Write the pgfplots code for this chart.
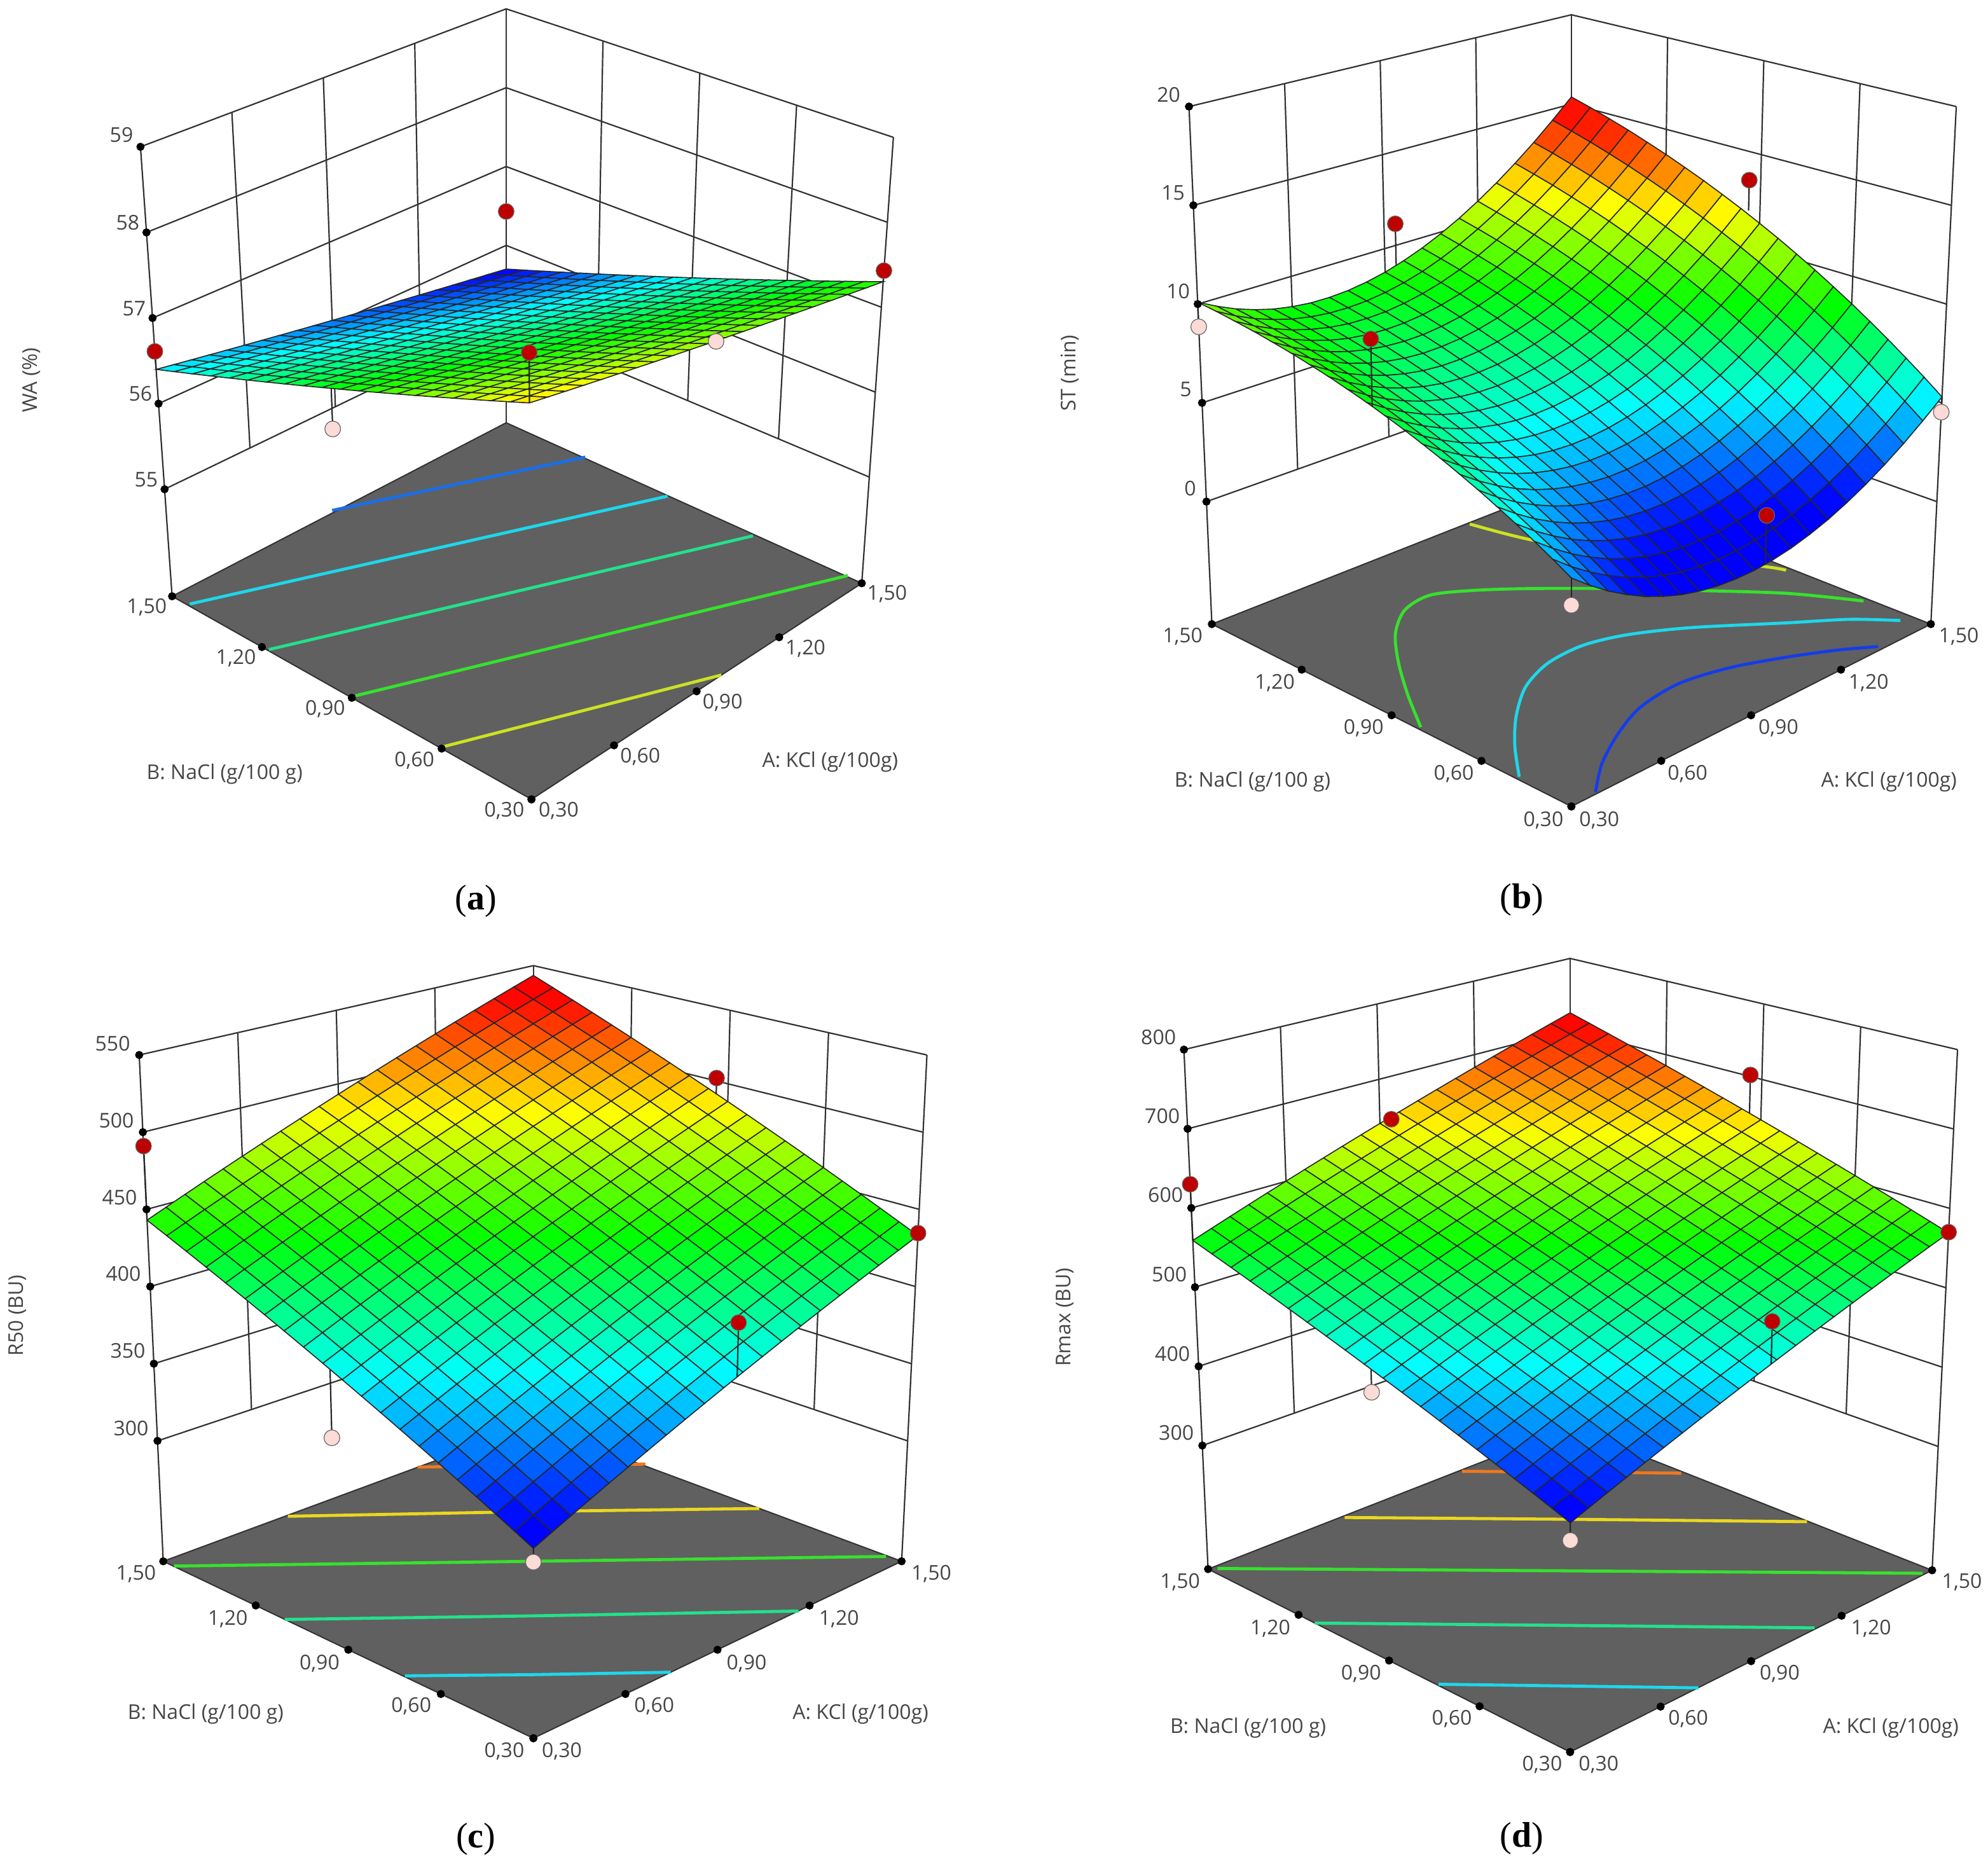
\documentclass[border=0pt]{standalone}
\usepackage{fontspec}
\setmainfont{Open Sans}
\newfontfamily\capfont{Liberation Serif}
\usepackage{pgfplots}
\usepackage{pgfplotstable}
\pgfplotsset{compat=1.18}

\definecolor{floorc}{RGB}{96,96,96}
\definecolor{wallc}{RGB}{50,50,50}
\definecolor{ptred}{RGB}{190,0,0}
\definecolor{ptpink}{RGB}{252,218,214}
\definecolor{txt}{RGB}{70,70,70}
\definecolor{cblue}{RGB}{25,110,235}
\definecolor{cdeep}{RGB}{20,60,235}
\definecolor{ccyan}{RGB}{30,215,235}
\definecolor{cteal}{RGB}{35,225,140}
\definecolor{cgreen}{RGB}{55,225,45}
\definecolor{cyell}{RGB}{205,225,35}
\definecolor{cgold}{RGB}{235,215,30}
\definecolor{corange}{RGB}{240,120,30}

% response over the 21 x 21 grid, back corner first (A from 1.5 down, then B from 1.5 down)
\pgfplotstableread[header=false]{
55.700
55.735
55.770
55.805
55.840
55.875
55.910
55.945
55.980
56.015
56.050
56.085
56.120
56.155
56.190
56.225
56.260
56.295
56.330
56.365
56.400
55.780
55.815
55.850
55.885
55.920
55.955
55.990
56.025
56.060
56.095
56.130
56.165
56.200
56.235
56.270
56.305
56.340
56.375
56.410
56.445
56.480
55.860
55.895
55.930
55.965
56.000
56.035
56.070
56.105
56.140
56.175
56.210
56.245
56.280
56.315
56.350
56.385
56.420
56.455
56.490
56.525
56.560
55.940
55.975
56.010
56.045
56.080
56.115
56.150
56.185
56.220
56.255
56.290
56.325
56.360
56.395
56.430
56.465
56.500
56.535
56.570
56.605
56.640
56.020
56.055
56.090
56.125
56.160
56.195
56.230
56.265
56.300
56.335
56.370
56.405
56.440
56.475
56.510
56.545
56.580
56.615
56.650
56.685
56.720
56.100
56.135
56.170
56.205
56.240
56.275
56.310
56.345
56.380
56.415
56.450
56.485
56.520
56.555
56.590
56.625
56.660
56.695
56.730
56.765
56.800
56.180
56.215
56.250
56.285
56.320
56.355
56.390
56.425
56.460
56.495
56.530
56.565
56.600
56.635
56.670
56.705
56.740
56.775
56.810
56.845
56.880
56.260
56.295
56.330
56.365
56.400
56.435
56.470
56.505
56.540
56.575
56.610
56.645
56.680
56.715
56.750
56.785
56.820
56.855
56.890
56.925
56.960
56.340
56.375
56.410
56.445
56.480
56.515
56.550
56.585
56.620
56.655
56.690
56.725
56.760
56.795
56.830
56.865
56.900
56.935
56.970
57.005
57.040
56.420
56.455
56.490
56.525
56.560
56.595
56.630
56.665
56.700
56.735
56.770
56.805
56.840
56.875
56.910
56.945
56.980
57.015
57.050
57.085
57.120
56.500
56.535
56.570
56.605
56.640
56.675
56.710
56.745
56.780
56.815
56.850
56.885
56.920
56.955
56.990
57.025
57.060
57.095
57.130
57.165
57.200
56.580
56.615
56.650
56.685
56.720
56.755
56.790
56.825
56.860
56.895
56.930
56.965
57.000
57.035
57.070
57.105
57.140
57.175
57.210
57.245
57.280
56.660
56.695
56.730
56.765
56.800
56.835
56.870
56.905
56.940
56.975
57.010
57.045
57.080
57.115
57.150
57.185
57.220
57.255
57.290
57.325
57.360
56.740
56.775
56.810
56.845
56.880
56.915
56.950
56.985
57.020
57.055
57.090
57.125
57.160
57.195
57.230
57.265
57.300
57.335
57.370
57.405
57.440
56.820
56.855
56.890
56.925
56.960
56.995
57.030
57.065
57.100
57.135
57.170
57.205
57.240
57.275
57.310
57.345
57.380
57.415
57.450
57.485
57.520
56.900
56.935
56.970
57.005
57.040
57.075
57.110
57.145
57.180
57.215
57.250
57.285
57.320
57.355
57.390
57.425
57.460
57.495
57.530
57.565
57.600
56.980
57.015
57.050
57.085
57.120
57.155
57.190
57.225
57.260
57.295
57.330
57.365
57.400
57.435
57.470
57.505
57.540
57.575
57.610
57.645
57.680
57.060
57.095
57.130
57.165
57.200
57.235
57.270
57.305
57.340
57.375
57.410
57.445
57.480
57.515
57.550
57.585
57.620
57.655
57.690
57.725
57.760
57.140
57.175
57.210
57.245
57.280
57.315
57.350
57.385
57.420
57.455
57.490
57.525
57.560
57.595
57.630
57.665
57.700
57.735
57.770
57.805
57.840
57.220
57.255
57.290
57.325
57.360
57.395
57.430
57.465
57.500
57.535
57.570
57.605
57.640
57.675
57.710
57.745
57.780
57.815
57.850
57.885
57.920
57.300
57.335
57.370
57.405
57.440
57.475
57.510
57.545
57.580
57.615
57.650
57.685
57.720
57.755
57.790
57.825
57.860
57.895
57.930
57.965
58.000
}\tabWA

\pgfplotstableread[header=false]{
15.40
14.38
13.43
12.57
11.78
11.08
10.45
9.91
9.44
9.06
8.75
8.53
8.38
8.32
8.33
8.43
8.60
8.86
9.19
9.61
10.10
15.09
14.07
13.14
12.28
11.51
10.81
10.20
9.66
9.21
8.83
8.54
8.33
8.19
8.14
8.16
8.27
8.45
8.72
9.06
9.49
10.00
14.75
13.75
12.82
11.98
11.21
10.53
9.93
9.40
8.96
8.59
8.31
8.11
7.98
7.94
7.97
8.09
8.29
8.56
8.92
9.35
9.87
14.40
13.40
12.49
11.65
10.90
10.23
9.63
9.12
8.69
8.33
8.06
7.87
7.75
7.72
7.77
7.89
8.10
8.39
8.75
9.20
9.73
14.02
13.04
12.13
11.31
10.57
9.91
9.32
8.82
8.40
8.05
7.79
7.61
7.50
7.48
7.54
7.68
7.89
8.19
8.57
9.02
9.56
13.63
12.65
11.76
10.95
10.22
9.56
8.99
8.50
8.09
7.75
7.50
7.33
7.24
7.22
7.29
7.44
7.67
7.97
8.36
8.83
9.38
13.21
12.25
11.37
10.56
9.84
9.20
8.64
8.16
7.75
7.43
7.19
7.03
6.95
6.94
7.02
7.18
7.42
7.74
8.13
8.61
9.17
12.78
11.82
10.95
10.16
9.45
8.82
8.27
7.79
7.40
7.09
6.86
6.71
6.64
6.65
6.73
6.90
7.15
7.48
7.89
8.38
8.95
12.32
11.38
10.52
9.74
9.04
8.42
7.87
7.41
7.03
6.73
6.51
6.37
6.31
6.33
6.43
6.61
6.86
7.20
7.62
8.12
8.70
11.85
10.91
10.06
9.29
8.60
7.99
7.46
7.01
6.64
6.35
6.14
6.01
5.96
5.99
6.10
6.29
6.56
6.91
7.34
7.85
8.44
11.35
10.43
9.59
8.83
8.15
7.55
7.03
6.59
6.23
5.95
5.75
5.63
5.59
5.63
5.75
5.95
6.23
6.59
7.03
7.55
8.15
10.84
9.93
9.10
8.35
7.68
7.09
6.58
6.15
5.80
5.53
5.34
5.23
5.20
5.25
5.38
5.59
5.88
6.25
6.70
7.23
7.85
10.30
9.40
8.58
7.84
7.18
6.61
6.11
5.69
5.35
5.09
4.91
4.81
4.79
4.85
4.99
5.22
5.52
5.90
6.36
6.90
7.52
9.75
8.86
8.05
7.32
6.67
6.10
5.61
5.21
4.88
4.63
4.46
4.37
4.36
4.43
4.59
4.82
5.13
5.52
5.99
6.54
7.18
9.17
8.29
7.49
6.78
6.14
5.58
5.10
4.70
4.39
4.15
3.99
3.91
3.91
4.00
4.16
4.40
4.72
5.12
5.61
6.17
6.81
8.58
7.71
6.92
6.21
5.59
5.04
4.57
4.18
3.88
3.65
3.50
3.43
3.45
3.54
3.71
3.96
4.30
4.71
5.20
5.77
6.43
7.96
7.10
6.33
5.63
5.01
4.48
4.02
3.64
3.34
3.13
2.99
2.93
2.96
3.06
3.24
3.51
3.85
4.27
4.77
5.36
6.02
7.33
6.48
5.71
5.03
4.42
3.89
3.45
3.08
2.79
2.59
2.46
2.41
2.45
2.56
2.75
3.03
3.38
3.81
4.33
4.92
5.60
6.67
5.83
5.08
4.40
3.81
3.29
2.85
2.50
2.22
2.03
1.91
1.87
1.92
2.04
2.25
2.53
2.89
3.34
3.86
4.47
5.15
6.00
5.17
4.42
3.76
3.17
2.67
2.24
1.90
1.63
1.45
1.34
1.31
1.37
1.50
1.72
2.01
2.39
2.84
3.38
3.99
4.69
5.30
4.49
3.75
3.10
2.52
2.03
1.61
1.28
1.02
0.85
0.75
0.74
0.80
0.95
1.17
1.48
1.86
2.33
2.87
3.50
4.20
}\tabST

\pgfplotstableread[header=false]{
543
538
533
528
523
518
513
508
503
498
493
488
483
478
473
468
463
458
453
448
443
537.5
532.5
527.5
522.5
517.5
512.5
507.5
502.5
497.5
492.5
487.5
482.5
477.5
472.5
467.5
462.5
457.5
452.5
447.5
442.5
437.5
532
527
522
517
512
507
502
497
492
487
482
477
472
467
462
457
452
447
442
437
432
526.5
521.5
516.5
511.5
506.5
501.5
496.5
491.5
486.5
481.5
476.5
471.5
466.5
461.5
456.5
451.5
446.5
441.5
436.5
431.5
426.5
521
516
511
506
501
496
491
486
481
476
471
466
461
456
451
446
441
436
431
426
421
515.5
510.5
505.5
500.5
495.5
490.5
485.5
480.5
475.5
470.5
465.5
460.5
455.5
450.5
445.5
440.5
435.5
430.5
425.5
420.5
415.5
510
505
500
495
490
485
480
475
470
465
460
455
450
445
440
435
430
425
420
415
410
504.5
499.5
494.5
489.5
484.5
479.5
474.5
469.5
464.5
459.5
454.5
449.5
444.5
439.5
434.5
429.5
424.5
419.5
414.5
409.5
404.5
499
494
489
484
479
474
469
464
459
454
449
444
439
434
429
424
419
414
409
404
399
493.5
488.5
483.5
478.5
473.5
468.5
463.5
458.5
453.5
448.5
443.5
438.5
433.5
428.5
423.5
418.5
413.5
408.5
403.5
398.5
393.5
488
483
478
473
468
463
458
453
448
443
438
433
428
423
418
413
408
403
398
393
388
482.5
477.5
472.5
467.5
462.5
457.5
452.5
447.5
442.5
437.5
432.5
427.5
422.5
417.5
412.5
407.5
402.5
397.5
392.5
387.5
382.5
477
472
467
462
457
452
447
442
437
432
427
422
417
412
407
402
397
392
387
382
377
471.5
466.5
461.5
456.5
451.5
446.5
441.5
436.5
431.5
426.5
421.5
416.5
411.5
406.5
401.5
396.5
391.5
386.5
381.5
376.5
371.5
466
461
456
451
446
441
436
431
426
421
416
411
406
401
396
391
386
381
376
371
366
460.5
455.5
450.5
445.5
440.5
435.5
430.5
425.5
420.5
415.5
410.5
405.5
400.5
395.5
390.5
385.5
380.5
375.5
370.5
365.5
360.5
455
450
445
440
435
430
425
420
415
410
405
400
395
390
385
380
375
370
365
360
355
449.5
444.5
439.5
434.5
429.5
424.5
419.5
414.5
409.5
404.5
399.5
394.5
389.5
384.5
379.5
374.5
369.5
364.5
359.5
354.5
349.5
444
439
434
429
424
419
414
409
404
399
394
389
384
379
374
369
364
359
354
349
344
438.5
433.5
428.5
423.5
418.5
413.5
408.5
403.5
398.5
393.5
388.5
383.5
378.5
373.5
368.5
363.5
358.5
353.5
348.5
343.5
338.5
433
428
423
418
413
408
403
398
393
388
383
378
373
368
363
358
353
348
343
338
333
}\tabRfifty

\pgfplotstableread[header=false]{
724.00
715.75
707.50
699.25
691.00
682.75
674.50
666.25
658.00
649.75
641.50
633.25
625.00
616.75
608.50
600.25
592.00
583.75
575.50
567.25
559.00
716.25
708.00
699.75
691.50
683.25
675.00
666.75
658.50
650.25
642.00
633.75
625.50
617.25
609.00
600.75
592.50
584.25
576.00
567.75
559.50
551.25
708.50
700.25
692.00
683.75
675.50
667.25
659.00
650.75
642.50
634.25
626.00
617.75
609.50
601.25
593.00
584.75
576.50
568.25
560.00
551.75
543.50
700.75
692.50
684.25
676.00
667.75
659.50
651.25
643.00
634.75
626.50
618.25
610.00
601.75
593.50
585.25
577.00
568.75
560.50
552.25
544.00
535.75
693.00
684.75
676.50
668.25
660.00
651.75
643.50
635.25
627.00
618.75
610.50
602.25
594.00
585.75
577.50
569.25
561.00
552.75
544.50
536.25
528.00
685.25
677.00
668.75
660.50
652.25
644.00
635.75
627.50
619.25
611.00
602.75
594.50
586.25
578.00
569.75
561.50
553.25
545.00
536.75
528.50
520.25
677.50
669.25
661.00
652.75
644.50
636.25
628.00
619.75
611.50
603.25
595.00
586.75
578.50
570.25
562.00
553.75
545.50
537.25
529.00
520.75
512.50
669.75
661.50
653.25
645.00
636.75
628.50
620.25
612.00
603.75
595.50
587.25
579.00
570.75
562.50
554.25
546.00
537.75
529.50
521.25
513.00
504.75
662.00
653.75
645.50
637.25
629.00
620.75
612.50
604.25
596.00
587.75
579.50
571.25
563.00
554.75
546.50
538.25
530.00
521.75
513.50
505.25
497.00
654.25
646.00
637.75
629.50
621.25
613.00
604.75
596.50
588.25
580.00
571.75
563.50
555.25
547.00
538.75
530.50
522.25
514.00
505.75
497.50
489.25
646.50
638.25
630.00
621.75
613.50
605.25
597.00
588.75
580.50
572.25
564.00
555.75
547.50
539.25
531.00
522.75
514.50
506.25
498.00
489.75
481.50
638.75
630.50
622.25
614.00
605.75
597.50
589.25
581.00
572.75
564.50
556.25
548.00
539.75
531.50
523.25
515.00
506.75
498.50
490.25
482.00
473.75
631.00
622.75
614.50
606.25
598.00
589.75
581.50
573.25
565.00
556.75
548.50
540.25
532.00
523.75
515.50
507.25
499.00
490.75
482.50
474.25
466.00
623.25
615.00
606.75
598.50
590.25
582.00
573.75
565.50
557.25
549.00
540.75
532.50
524.25
516.00
507.75
499.50
491.25
483.00
474.75
466.50
458.25
615.50
607.25
599.00
590.75
582.50
574.25
566.00
557.75
549.50
541.25
533.00
524.75
516.50
508.25
500.00
491.75
483.50
475.25
467.00
458.75
450.50
607.75
599.50
591.25
583.00
574.75
566.50
558.25
550.00
541.75
533.50
525.25
517.00
508.75
500.50
492.25
484.00
475.75
467.50
459.25
451.00
442.75
600.00
591.75
583.50
575.25
567.00
558.75
550.50
542.25
534.00
525.75
517.50
509.25
501.00
492.75
484.50
476.25
468.00
459.75
451.50
443.25
435.00
592.25
584.00
575.75
567.50
559.25
551.00
542.75
534.50
526.25
518.00
509.75
501.50
493.25
485.00
476.75
468.50
460.25
452.00
443.75
435.50
427.25
584.50
576.25
568.00
559.75
551.50
543.25
535.00
526.75
518.50
510.25
502.00
493.75
485.50
477.25
469.00
460.75
452.50
444.25
436.00
427.75
419.50
576.75
568.50
560.25
552.00
543.75
535.50
527.25
519.00
510.75
502.50
494.25
486.00
477.75
469.50
461.25
453.00
444.75
436.50
428.25
420.00
411.75
569.00
560.75
552.50
544.25
536.00
527.75
519.50
511.25
503.00
494.75
486.50
478.25
470.00
461.75
453.50
445.25
437.00
428.75
420.50
412.25
404.00
}\tabRmax

\pgfplotsset{
  table/cube/.style={header=false,
    x expr={PU(NA(\thisrowno{0}),NA(\thisrowno{1}),NZ(\thisrowno{2}))},
    y expr={PV(NA(\thisrowno{0}),NA(\thisrowno{1}),NZ(\thisrowno{2}))},
    z expr={\thisrowno{2}}},
  table/gridz/.style={x index=0,y index=0,z index=0,
    x expr={PU(1-(\coordindex-21*floor((\coordindex+0.5)/21))/20,1-floor((\coordindex+0.5)/21)/20,NZ(\thisrowno{0}))},
    y expr={PV(1-(\coordindex-21*floor((\coordindex+0.5)/21))/20,1-floor((\coordindex+0.5)/21)/20,NZ(\thisrowno{0}))},
    z expr={\thisrowno{0}}},
  panel/.style n args={4}{at={(#1pt,#2pt)},anchor=south west,scale only axis,
    width=#3pt,height=#4pt,xmin=0,xmax=1568,ymin=0,ymax=1568,y dir=reverse,
    view={0}{90},hide axis,clip=false},
  colormap={de}{rgb255=(0,0,255) rgb255=(0,255,255) rgb255=(0,255,0) rgb255=(255,255,0) rgb255=(255,0,0)},
  wall/.style={wallc,line width=0.55pt},
  dot/.style={only marks,mark=*,mark size=1.4pt,black},
  stem/.style={black!85,line width=0.55pt},
  redpt/.style={only marks,mark=*,mark size=3.1pt,mark options={fill=ptred,draw=black!60,line width=0.3pt}},
  pinkpt/.style={only marks,mark=*,mark size=3.1pt,mark options={fill=ptpink,draw=black!60,line width=0.3pt}},
  cont/.style={line width=1.2pt},
  resp/.style={surf,shader=faceted,faceted color=black!85,line width=0.4pt,mesh/rows=21,z buffer=none},
}

% floor level, lowest tick, top, tick list
\newcommand\cubeframe[4]{
  \pgfplotsinvokeforeach{#4}{
    \addplot3[wall] table[cube,row sep=\\]{0.3 1.5 ##1\\1.5 1.5 ##1\\1.5 0.3 ##1\\};
  }
  \pgfplotsinvokeforeach{0.6,0.9,1.2}{
    \addplot3[wall] table[cube,row sep=\\]{##1 1.5 #2\\##1 1.5 #3\\};
    \addplot3[wall] table[cube,row sep=\\]{1.5 ##1 #2\\1.5 ##1 #3\\};
  }
  \addplot3[wall] table[cube,row sep=\\]{0.3 1.5 #1\\0.3 1.5 #3\\};
  \addplot3[wall] table[cube,row sep=\\]{1.5 1.5 #1\\1.5 1.5 #3\\};
  \addplot3[wall] table[cube,row sep=\\]{1.5 0.3 #1\\1.5 0.3 #3\\};
  \addplot3[fill=floorc,draw=wallc,line width=0.5pt] table[cube,row sep=\\]{0.3 0.3 #1\\1.5 0.3 #1\\1.5 1.5 #1\\0.3 1.5 #1\\0.3 0.3 #1\\};
  \pgfplotsinvokeforeach{#4}{
    \addplot3[dot] table[cube,row sep=\\]{0.3 1.5 ##1\\};
  }
  \pgfplotsinvokeforeach{0.3,0.6,0.9,1.2,1.5}{
    \addplot3[dot] table[cube,row sep=\\]{##1 0.3 #1\\0.3 ##1 #1\\};
  }
}
% A, B, response, surface height there, point style
\newcommand\dpoint[5]{
  \addplot3[stem] table[cube,row sep=\\]{#1 #2 #3\\#1 #2 #4\\};
  \addplot3[#5] table[cube,row sep=\\]{#1 #2 #3\\};
}
\newcommand\tlab[3]{\node[text=txt,font=\fontsize{8}{9.6}\selectfont] at (axis cs:#1,#2,0) {#3};}
\newcommand\rlab[3]{\node[text=txt,rotate=90,font=\fontsize{8}{9.6}\selectfont] at (axis cs:#1,#2,0) {#3};}
\newcommand\panelcap[3]{\node[font=\capfont\fontsize{14}{16}\selectfont] at (axis cs:#1,#2,0) {(\textbf{#3})};}

\begin{document}
\begin{tikzpicture}
\path[use as bounding box] (0,0) rectangle (781.5pt,734.75pt);

% (a)
\begin{axis}[panel={0}{369.75}{390}{365},zmin=53.75,zmax=59,colormap name=de,point meta min=55.75,point meta max=58.6,
  declare function={NA(\s)=(\s-0.3)/1.2; NZ(\z)=(\z-53.75)/5.25;
    PU(\ta,\tb,\tc)=(1-\tc)*((1-\ta)*((1-\tb)*840+\tb*272)+\ta*((1-\tb)*1362+\tb*800))+\tc*((1-\ta)*((1-\tb)*836+\tb*222)+\ta*((1-\tb)*1412+\tb*800));
    PV(\ta,\tb,\tc)=(1-\tc)*((1-\ta)*((1-\tb)*1350+\tb*1007)+\ta*((1-\tb)*985+\tb*714))+\tc*((1-\ta)*((1-\tb)*523+\tb*248)+\ta*((1-\tb)*232+\tb*15));}]
\cubeframe{53.75}{55}{59}{55,56,57,58,59}
\addplot3[cont,cblue] coordinates {(525,862,0) (925,772,0)};
\addplot3[cont,ccyan] coordinates {(300,1020,0) (1055,838,0)};
\addplot3[cont,cteal] coordinates {(425,1097,0) (1190,905,0)};
\addplot3[cont,cgreen] coordinates {(562,1175,0) (1340,972,0)};
\addplot3[cont,cyell] coordinates {(697,1262,0) (1140,1140,0)};
\dpoint{0.888}{1.5}{54.75}{56.06}{pinkpt}
\dpoint{1.5}{0.816}{55.85}{56.61}{pinkpt}
\addplot3[resp] table[gridz] {\tabWA};
\dpoint{1.5}{1.5}{56.43}{55.7}{redpt}
\dpoint{0.3}{1.5}{56.61}{56.4}{redpt}
\dpoint{1.5}{0.3}{57.43}{57.3}{redpt}
\dpoint{0.3}{0.3}{58.54}{58.0}{redpt}
\tlab{192}{228}{59}\tlab{202}{376}{58}\tlab{212}{521}{57}\tlab{222}{665}{56}\tlab{231}{810}{55}
\tlab{232}{1026}{1,50}\tlab{373}{1112}{1,20}\tlab{514}{1197}{0,90}\tlab{655}{1284}{0,60}\tlab{797}{1369}{0,30}
\tlab{883}{1369}{0,30}\tlab{1012}{1278}{0,60}\tlab{1142}{1187}{0,90}\tlab{1273}{1095}{1,20}\tlab{1402}{1003}{1,50}
\tlab{355}{1307}{B: NaCl (g/100 g)}\tlab{1312}{1287}{A: KCl (g/100g)}\rlab{50}{642}{WA (\%)}
\panelcap{752}{1522}{a}
\end{axis}

% (b)
\begin{axis}[panel={390}{369.75}{391.5}{365},zmin=-6.2,zmax=20,colormap name=de,point meta min=2.3,point meta max=14.6,
  declare function={NA(\s)=(\s-0.3)/1.2; NZ(\z)=(\z+6.2)/26.2;
    PU(\ta,\tb,\tc)=(1-\tc)*((1-\ta)*((1-\tb)*912+\tb*346)+\ta*((1-\tb)*1478+\tb*912))+\tc*((1-\ta)*((1-\tb)*912+\tb*310)+\ta*((1-\tb)*1518+\tb*912));
    PV(\ta,\tb,\tc)=(1-\tc)*((1-\ta)*((1-\tb)*1362+\tb*1054)+\ta*((1-\tb)*1054+\tb*815))+\tc*((1-\ta)*((1-\tb)*390+\tb*180)+\ta*((1-\tb)*180+\tb*25));}]
\cubeframe{-6.2}{0}{20}{0,5,10,15,20}
\addplot3[cont,cyell,smooth] coordinates {(752,885,0) (850,912,0) (1000,938,0) (1200,955,0) (1250,963,0)};
\addplot3[cont,cgreen,smooth] coordinates {(675,1228,0) (655,1175,0) (640,1120,0) (635,1070,0) (650,1030,0) (690,1005,0) (760,997,0) (850,994,0) (1000,994,0) (1100,997,0) (1250,1002,0) (1372,1015,0)};
\addplot3[cont,ccyan,smooth] coordinates {(830,1312,0) (823,1260,0) (825,1210,0) (840,1160,0) (875,1120,0) (930,1090,0) (1000,1072,0) (1100,1060,0) (1250,1052,0) (1350,1046,0) (1430,1048,0)};
\addplot3[cont,cdeep,smooth] coordinates {(950,1338,0) (960,1290,0) (985,1240,0) (1020,1195,0) (1080,1155,0) (1160,1128,0) (1250,1110,0) (1330,1098,0) (1395,1092,0)};
\dpoint{0.3}{0.3}{2.96}{4.2}{pinkpt}
\dpoint{0.3}{1.5}{8.85}{10.1}{pinkpt}
\addplot3[resp] table[gridz] {\tabST};
\dpoint{1.5}{0.3}{4.53}{5.3}{pinkpt}
\dpoint{0.936}{1.5}{11.15}{8.92}{redpt}
\dpoint{1.5}{0.936}{13.48}{11.86}{redpt}
\dpoint{0.936}{0.3}{3.15}{0.79}{redpt}
\dpoint{0.3}{0.942}{11.6}{8.35}{redpt}
\tlab{278}{160}{20}\tlab{285}{326}{15}\tlab{293}{492}{10}\tlab{305}{658}{5}\tlab{312}{825}{0}
\tlab{300}{1075}{1,50}\tlab{445}{1153}{1,20}\tlab{585}{1230}{0,90}\tlab{727}{1307}{0,60}\tlab{868}{1385}{0,30}
\tlab{956}{1385}{0,30}\tlab{1095}{1307}{0,60}\tlab{1238}{1230}{0,90}\tlab{1380}{1153}{1,20}\tlab{1522}{1075}{1,50}
\tlab{410}{1320}{B: NaCl (g/100 g)}\tlab{1412}{1320}{A: KCl (g/100g)}\rlab{122}{630}{ST (min)}
\panelcap{834}{1520}{b}
\end{axis}

% (c)
\begin{axis}[panel={0}{0}{390}{369.75},zmin=222,zmax=550,colormap name=de,point meta min=342,point meta max=532,
  declare function={NA(\s)=(\s-0.3)/1.2; NZ(\z)=(\z-222)/328;
    PU(\ta,\tb,\tc)=(1-\tc)*((1-\ta)*((1-\tb)*843+\tb*258)+\ta*((1-\tb)*1425+\tb*843))+\tc*((1-\ta)*((1-\tb)*843+\tb*220)+\ta*((1-\tb)*1465+\tb*843));
    PV(\ta,\tb,\tc)=(1-\tc)*((1-\ta)*((1-\tb)*1350+\tb*1055)+\ta*((1-\tb)*1055+\tb*827))+\tc*((1-\ta)*((1-\tb)*415+\tb*211)+\ta*((1-\tb)*211+\tb*62));}]
\cubeframe{222}{300}{550}{300,350,400,450,500,550}
\addplot3[cont,corange] coordinates {(660,898,0) (1020,893,0)};
\addplot3[cont,cgold] coordinates {(455,980,0) (843,972,0) (1200,967,0)};
\addplot3[cont,cgreen] coordinates {(275,1063,0) (843,1055,0) (1400,1047,0)};
\addplot3[cont,cteal] coordinates {(450,1152,0) (843,1146,0) (1262,1138,0)};
\addplot3[cont,ccyan] coordinates {(640,1246,0) (843,1244,0) (1060,1240,0)};
\dpoint{0.852}{1.5}{263}{489}{pinkpt}
\addplot3[resp] table[gridz] {\tabRfifty};
\dpoint{0.3}{0.3}{325}{333}{pinkpt}
\dpoint{0.3}{1.5}{491}{443}{redpt}
\dpoint{1.5}{0.3}{434.6}{433}{redpt}
\dpoint{1.5}{0.936}{502}{491}{redpt}
\dpoint{0.942}{0.3}{420}{386.5}{redpt}
\tlab{178}{192}{550}\tlab{184}{320}{500}\tlab{189}{449}{450}\tlab{195}{576}{400}\tlab{202}{704}{350}\tlab{207}{833}{300}
\tlab{215}{1076}{1,50}\tlab{360}{1151}{1,20}\tlab{505}{1225}{0,90}\tlab{650}{1297}{0,60}\tlab{797}{1372}{0,30}
\tlab{888}{1372}{0,30}\tlab{1034}{1297}{0,60}\tlab{1180}{1225}{0,90}\tlab{1326}{1151}{1,20}\tlab{1472}{1076}{1,50}
\tlab{325}{1310}{B: NaCl (g/100 g)}\tlab{1360}{1310}{A: KCl (g/100g)}\rlab{28}{645}{R50 (BU)}
\panelcap{752}{1518}{c}
\end{axis}

% (d)
\begin{axis}[panel={390}{0}{391.5}{369.75},zmin=144,zmax=800,colormap name=de,point meta min=416,point meta max=712,
  declare function={NA(\s)=(\s-0.3)/1.2; NZ(\z)=(\z-144)/656;
    PU(\ta,\tb,\tc)=(1-\tc)*((1-\ta)*((1-\tb)*910+\tb*340)+\ta*((1-\tb)*1480+\tb*910))+\tc*((1-\ta)*((1-\tb)*911+\tb*302)+\ta*((1-\tb)*1520+\tb*910));
    PV(\ta,\tb,\tc)=(1-\tc)*((1-\ta)*((1-\tb)*1373+\tb*1068)+\ta*((1-\tb)*1070+\tb*832))+\tc*((1-\ta)*((1-\tb)*409+\tb*202)+\ta*((1-\tb)*202+\tb*50));}]
\cubeframe{144}{300}{800}{300,400,500,600,700,800}
\addplot3[cont,corange] coordinates {(740,905,0) (1085,908,0)};
\addplot3[cont,cgold] coordinates {(555,982,0) (910,985,0) (1283,989,0)};
\addplot3[cont,cgreen] coordinates {(355,1067,0) (910,1071,0) (1465,1075,0)};
\addplot3[cont,cteal] coordinates {(508,1158,0) (910,1162,0) (1295,1166,0)};
\addplot3[cont,ccyan] coordinates {(703,1260,0) (910,1263,0) (1112,1266,0)};
\dpoint{0.852}{1.5}{291.6}{635}{pinkpt}
\dpoint{0.936}{1.5}{643}{646}{redpt}
\addplot3[resp] table[gridz] {\tabRmax};
\dpoint{0.3}{0.3}{384}{404}{pinkpt}
\dpoint{0.3}{1.5}{630}{559}{redpt}
\dpoint{1.5}{0.3}{570}{569}{redpt}
\dpoint{1.5}{0.936}{702}{651}{redpt}
\dpoint{0.942}{0.3}{543.5}{492}{redpt}
\tlab{262}{181}{800}\tlab{268}{313}{700}\tlab{273}{444}{600}\tlab{279}{577}{500}\tlab{284}{709}{400}\tlab{290}{841}{300}
\tlab{296}{1090}{1,50}\tlab{438}{1167}{1,20}\tlab{581}{1243}{0,90}\tlab{724}{1318}{0,60}\tlab{866}{1394}{0,30}
\tlab{955}{1394}{0,30}\tlab{1096}{1318}{0,60}\tlab{1240}{1243}{0,90}\tlab{1384}{1167}{1,20}\tlab{1527}{1090}{1,50}
\tlab{403}{1333}{B: NaCl (g/100 g)}\tlab{1415}{1333}{A: KCl (g/100g)}\rlab{115}{648}{Rmax (BU)}
\panelcap{834}{1517}{d}
\end{axis}
\end{tikzpicture}
\end{document}
